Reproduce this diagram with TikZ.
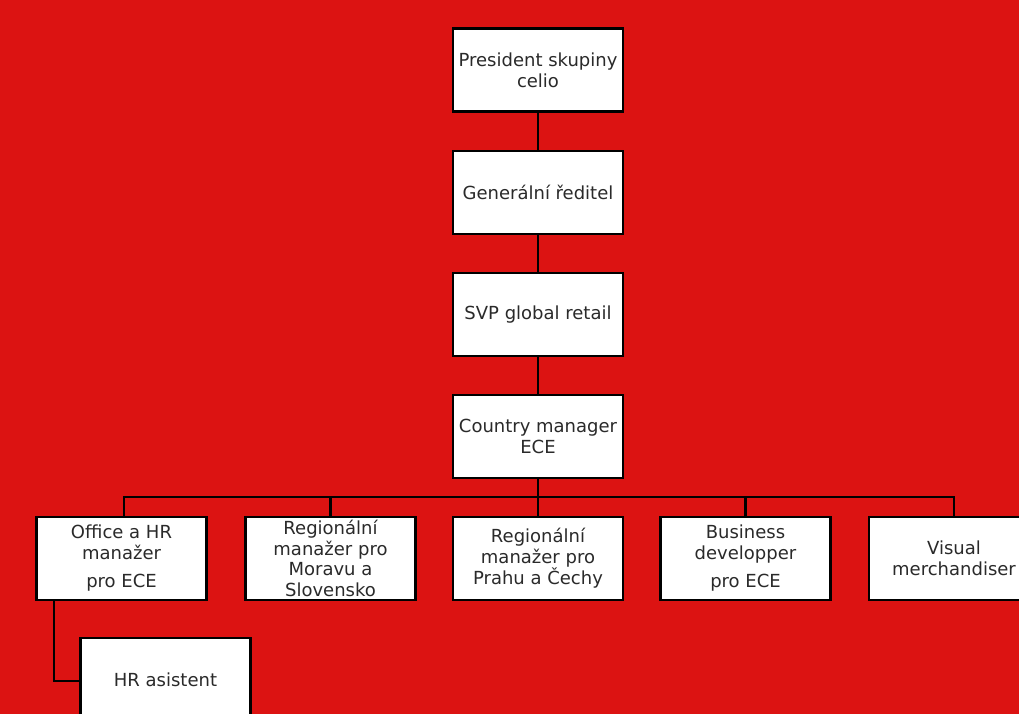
\documentclass[tikz,border=0pt]{standalone}
\usepackage{fontspec}
\setmainfont{DejaVu Sans}
\definecolor{bgred}{HTML}{DC1312}
\definecolor{txt}{HTML}{2A2A2A}
\begin{document}
\begin{tikzpicture}[x=1pt,y=-1pt,
  box/.style={draw=black,line width=2.4pt,fill=white,minimum width=170pt,minimum height=83pt,inner sep=0pt,align=center,font=\fontsize{18}{21}\selectfont,text=txt},
  conn/.style={draw=black,line width=2.3pt}]
\fill[bgred] (0,0) rectangle (1019,714);
\useasboundingbox (0,0) rectangle (1019,714);
\coordinate (bus0) at (538,497);
\draw[conn] (538,70) -- (538,436.5);
\draw[conn] (538,436.5) -- (bus0);
\draw[conn] (124,558.5) |- (bus0) -| (954,558.5);
\draw[conn] (330.5,558.5) -- (330.5,497);
\draw[conn] (745.5,558.5) -- (745.5,497);
\draw[conn] (538,497) -- (538,558.5);
\draw[conn] (54,558.5) |- (165.5,681);
\node[box] (pres) at (538,70) {President skupiny\\celio};
\node[box] (gen) at (538,192.5) {Generální ředitel};
\node[box] (svp) at (538,314.5) {SVP global retail};
\node[box] (cm) at (538,436.5) {Country manager\\ECE};
\node[box] (off) at (121.5,558.5) {Office a HR\\manažer\\[7pt]pro ECE};
\node[box] (rmm) at (330.5,558.5) {Regionální\\[-0.5pt]manažer pro\\[-0.5pt]Moravu a\\[-0.5pt]Slovensko};
\node[box] (rmp) at (538,558.5) {Regionální\\manažer pro\\Prahu a Čechy};
\node[box] (bus) at (745.5,558.5) {Business\\developper\\[7pt]pro ECE};
\node[box] (vis) at (954,558.5) {Visual\\merchandiser};
\node[box] (hra) at (165.5,679.5) {HR asistent};
\end{tikzpicture}
\end{document}
